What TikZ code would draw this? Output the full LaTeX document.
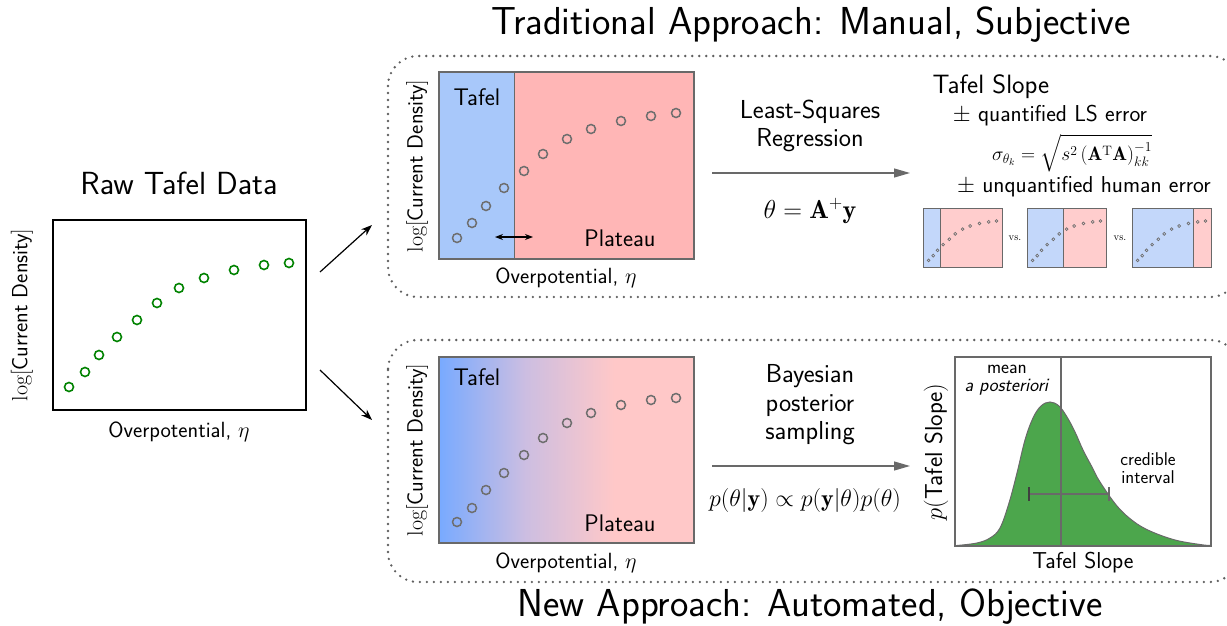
\documentclass[tikz,border=0pt]{standalone}
\usepackage{fix-cm}
\usepackage{fontspec}
\usepackage{amsmath}
\usetikzlibrary{arrows.meta}
\renewcommand{\familydefault}{\sfdefault}
\definecolor{tblue}{RGB}{168,200,250}
\definecolor{tpink}{RGB}{255,182,182}
\definecolor{gblue}{RGB}{120,170,255}
\definecolor{gmid}{RGB}{205,190,225}
\definecolor{gpink}{RGB}{255,200,200}
\definecolor{sblue}{RGB}{195,215,250}
\definecolor{spink}{RGB}{255,205,205}
\definecolor{framegray}{RGB}{105,105,105}
\definecolor{dotgray}{RGB}{110,110,110}
\definecolor{boxgray}{RGB}{95,95,95}
\definecolor{rawgreen}{RGB}{0,130,0}
\definecolor{postgreen}{RGB}{76,166,76}
\newcommand{\fsz}[2]{\fontsize{#1}{#2}\selectfont}
\tikzset{
  plotframe/.style={draw=framegray, line width=2pt, inner sep=0pt},
  dotbox/.style={draw=boxgray, line width=2.6pt, dash pattern=on 0pt off 7pt, line cap=round, rounded corners=30pt},
  bigtitle/.style={font=\fsz{39}{44}, inner sep=0pt},
  midtitle/.style={font=\fsz{25}{28}, inner sep=0pt},
  midtext/.style={font=\fsz{26}{28.5}, inner sep=0pt, align=center},
  axlabel/.style={font=\fsz{22}{24}, inner sep=0pt},
  smalltext/.style={font=\fsz{19}{18.5}, inner sep=0pt, align=center},
  grayarrow/.style={draw=framegray, line width=1.3pt, -{Triangle[length=16pt,width=9pt]}},
  blackarrow/.style={draw=black, line width=1.2pt, -{Stealth[length=11pt,width=8pt]}},
  gdot/.style={draw=dotgray, line width=1.5pt},
  rdot/.style={draw=rawgreen, line width=1.6pt},
}
\begin{document}
\begin{tikzpicture}[x=1pt,y=-1pt]
\useasboundingbox (0,0) rectangle (1227,626);

% titles
\node[bigtitle] (ttrad) at (811,25) {Traditional Approach: Manual, Subjective};
\node[bigtitle] (tnew) at (810,607) {New Approach: Automated, Objective};

% dotted boxes
\draw[dotbox] (388,56) rectangle (1240,297);
\draw[dotbox] (388,340) rectangle (1240,582);

% ---------- Raw Tafel data ----------
\node[midtitle, font=\fsz{32}{36}] (trawtitle) at (179,183) {Raw Tafel Data};
\node[draw=black, line width=2pt, minimum width=253pt, minimum height=190pt, inner sep=0pt] (raw) at (179.5,315) {};
\foreach \x/\y in {69/387,85/372,99/355,117/337,137/320,157/303,179/288,204/278,234/270,264/265,289/263}
  \draw[rdot] (\x,\y) circle[radius=4.5];
\node[axlabel, rotate=90] (rawy) at (22,315) {$\log[$Current Density$]$};
\node[axlabel] (rawx) at (179,432) {Overpotential, $\eta$};

% arrows
\coordinate (a1s) at (320,272); \coordinate (a1e) at (372,225);
\coordinate (a2s) at (320,370); \coordinate (a2e) at (372,420);
\draw[blackarrow] (a1s) -- (a1e);
\draw[blackarrow] (a2s) -- (a2e);

% ---------- Top plot ----------
\fill[tblue] (439,72) rectangle (514,259);
\fill[tpink] (514,72) rectangle (694,259);
\draw[framegray, line width=1pt] (514,72) -- (514,259);
\foreach \x/\y in {457/238,472/223,486/206,504/188,524/171,543/154,567/139,591/129,621/121,651/116,676/113}
  \draw[gdot] (\x,\y) circle[radius=4.5];
\node[plotframe, minimum width=255pt, minimum height=187pt] (top) at (566.5,165.5) {};
\node[midtitle, font=\fsz{24}{26}] (ttafel) at (477,97) {Tafel};
\node[midtitle, font=\fsz{24}{26}] (tplat) at (620,238) {Plateau};
\coordinate (dl) at (495,237); \coordinate (dr) at (533,237);
\draw[black, line width=1.2pt, {Stealth[length=8pt,width=6pt]}-{Stealth[length=8pt,width=6pt]}] (dl) -- (dr);
\node[axlabel, rotate=90] (topy) at (417,166) {$\log[$Current Density$]$};
\node[axlabel] (topx) at (566,278) {Overpotential, $\eta$};

% LS arrow
\node[midtext] (ls) at (810,126) {Least-Squares\\Regression};
\coordinate (lss) at (712,173); \coordinate (lse) at (910,173);
\draw[grayarrow] (lss) -- (lse);
\node[midtext] (lsf) at (810,211) {$\theta = \mathbf{A}^{+}\mathbf{y}$};

% Right top text
\node[midtitle, font=\fsz{26.5}{28}] (tslope) at (991,87) {Tafel Slope};
\node[midtext, font=\fsz{23}{25}] (tlserr) at (1050,116) {$\pm$ quantified LS error};
\node[inner sep=0pt, font=\fsz{19.5}{22}] (tform) at (1072,153) {$\sigma_{\theta_k} = \sqrt{s^2\left(\mathbf{A}^{\mathrm{T}}\mathbf{A}\right)^{-1}_{kk}}$};
\node[midtext, font=\fsz{23}{25}] (thum) at (1084,187) {$\pm$ unquantified human error};

% small plots
\foreach \ox/\sp [count=\i] in {923/55,1027/116,1132/197}{
  \begin{scope}[shift={(\ox,208)}, xscale=0.31, yscale=0.3155]
    \fill[sblue] (0,0) rectangle (\sp,187);
    \fill[spink] (\sp,0) rectangle (255,187);
    \draw[framegray, line width=0.8pt] (\sp,0) -- (\sp,187);
    \foreach \x/\y in {18/166,33/151,47/134,65/116,85/99,104/82,128/67,152/57,182/49,212/44,237/41}
      \draw[dotgray, line width=0.7pt] (\x,\y) circle[radius=4.5];
    \draw[framegray, line width=1pt] (0,0) rectangle (255,187);
  \end{scope}
}
\node[inner sep=0pt, font=\rmfamily\fsz{10.5}{12}] (vs1) at (1015,238) {vs.};
\node[inner sep=0pt, font=\rmfamily\fsz{10.5}{12}] (vs2) at (1120,238) {vs.};

% ---------- Bottom plot ----------
\shade[left color=gblue, right color=gpink, middle color=gmid] (439,357) rectangle (614,543);
\fill[gpink] (613.5,357) rectangle (694,543);
\foreach \x/\y in {457/522,472/508,486/490,504/473,524/455,543/438,567/423,591/413,621/405,651/400,676/398}
  \draw[gdot] (\x,\y) circle[radius=4.5];
\node[plotframe, minimum width=255pt, minimum height=186pt] (bot) at (566.5,450) {};
\node[midtitle, font=\fsz{24}{26}] (btafel) at (477,377) {Tafel};
\node[midtitle, font=\fsz{24}{26}] (bplat) at (620,523) {Plateau};
\node[axlabel, rotate=90] (boty) at (417,450) {$\log[$Current Density$]$};
\node[axlabel] (botx) at (566,563) {Overpotential, $\eta$};

% Bayesian arrow
\node[midtext] (bay) at (810,405) {Bayesian\\posterior\\sampling};
\coordinate (bs) at (712,466); \coordinate (be) at (910,466);
\draw[grayarrow] (bs) -- (be);
\node[midtext, font=\fsz{24}{26}] (bf) at (805,500) {$p(\theta|\mathbf{y}) \propto p(\mathbf{y}|\theta)p(\theta)$};

% ---------- Posterior ----------
\filldraw[fill=postgreen, draw=framegray, line width=1pt] plot[smooth, tension=0.6] coordinates {(957,545.5) (977,543) (990,538) (1000,528) (1009,503) (1017,473) (1025,440) (1033,418) (1041,406) (1050,402) (1059,406) (1067,417) (1075,432) (1083,450) (1092,467) (1100,482) (1117,506) (1133,521) (1150,531) (1175,540) (1200,544.5) (1210,545.5)} -- cycle;
\draw[framegray, line width=1.2pt] (1061,357) -- (1061,546);
\draw[framegray, line width=1.5pt] (1029,494) -- (1109,494);
\draw[framegray!60!black, line width=1.5pt] (1029,487) -- (1029,501);
\draw[framegray, line width=1.5pt] (1109,487) -- (1109,501);
\node[plotframe, minimum width=256pt, minimum height=189pt] (post) at (1083,451.5) {};
\node[smalltext] (mean) at (1007,380) {mean\\\textit{a posteriori}};
\node[smalltext, font=\fsz{18.5}{17.5}] (cred) at (1148,468) {credible\\interval};
\node[axlabel, font=\fsz{24.5}{26}, rotate=90] (posty) at (936,452) {$p($Tafel Slope$)$};
\node[axlabel, font=\fsz{23}{25}] (postx) at (1083,563) {Tafel Slope};
\end{tikzpicture}
\end{document}
